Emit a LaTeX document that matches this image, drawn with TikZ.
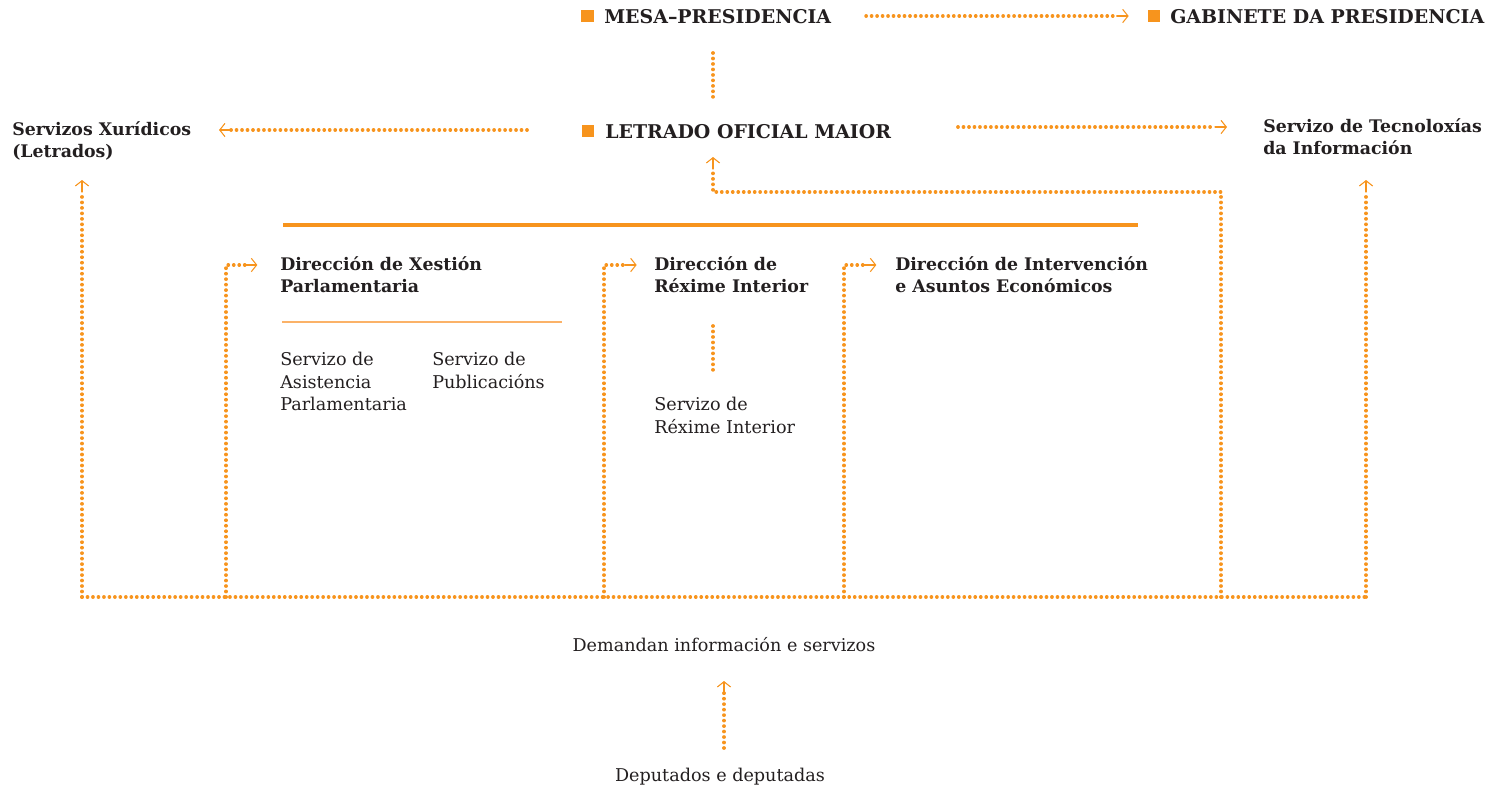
\documentclass[tikz,border=0pt]{standalone}
\usepackage{fontspec}
\setmainfont{DejaVu Serif}
\usetikzlibrary{arrows.meta,decorations.markings}
\definecolor{orng}{RGB}{247,148,29}
\definecolor{lorng}{RGB}{251,178,104}
\definecolor{ink}{RGB}{35,31,32}
\tikzset{
  dotline/.style={orng, line width=2.8pt, line cap=round, dash pattern=on 0.01pt off 4.1pt},
  tipline/.style={orng, solid, line width=0.8pt, shorten >=0pt, shorten <=0pt, -{Straight Barb[length=4pt,width=10pt,line width=0.8pt]}},
  arrowto/.style={dotline, shorten >=9pt, postaction={decorate, decoration={markings,
      mark=at position 1 with {\draw[tipline] (-9pt,0) -- (0,0);}}}},
  sq/.style={fill=orng, minimum size=9.6pt, inner sep=0pt},
  head/.style={text=ink, font=\fontsize{14.2}{16.5}\selectfont\bfseries, inner sep=0pt, anchor=base west},
  txt/.style={text=ink, font=\fontsize{13.2}{16.8}\selectfont, inner sep=0pt, align=left, anchor=north west},
  btxt/.style={txt, font=\fontsize{13}{16.5}\selectfont\bfseries},
}
\begin{document}
\begin{tikzpicture}[x=0.75pt, y=-0.75pt]
			%%%%% START %%%%%
			\useasboundingbox (0,0) rectangle (1495,789);
			
			% top row
			\node[sq] (mesasq) at (587.5,16) {};
			\node[head] (mesa) at (604,23) {MESA–PRESIDENCIA};
			\node[sq] (gabsq) at (1154,16) {};
			\node[head] (gabinete) at (1170,23) {GABINETE DA PRESIDENCIA};
			\draw[arrowto] ([xshift=26pt]mesa.east |- mesasq) -- ([xshift=-14pt]gabsq.west);
			
			\coordinate (mtop) at (713,53);
			\coordinate (mbot) at (713,100);
			\draw[dotline] (mtop) -- (mbot);
			
			% letrado
			\node[sq] (letsq) at (588,131) {};
			\node[head] (letrado) at (605,138) {LETRADO OFICIAL MAIOR};
			\node[btxt] (xuridicos) at (12,121) {Servizos Xurídicos\\(Letrados)};
			\node[btxt] (tecno) at (1263,118) {Servizo de Tecnoloxías\\da Información};
			\coordinate (lleft) at (527,130);
			\coordinate (lright) at (958,127);
			\draw[arrowto] (lleft) -- (219,130);
			\draw[arrowto] (lright) -- (1227,127);
			
			% bar
			\draw[orng, line width=2.4pt] (283,225) -- (1138,225);
			
			% direccions
			\node[btxt] (dxp) at (280,256) {Dirección de Xestión\\Parlamentaria};
			\node[btxt] (dri) at (654,256) {Dirección de\\Réxime Interior};
			\node[btxt] (dia) at (895,256) {Dirección de Intervención\\e Asuntos Económicos};
			\draw[lorng, line width=1.6pt] (282,322) -- (562,322);
			\node[txt] (sap) at (280,352) {Servizo de\\Asistencia\\Parlamentaria};
			\node[txt] (spub) at (432,352) {Servizo de\\Publicacións};
			\coordinate (rtop) at (713,326);
			\coordinate (rbot) at (713,373);
			\draw[dotline] (rtop) -- (rbot);
			\node[txt] (sri) at (654,397) {Servizo de\\Réxime Interior};
			
			% bottom
			\coordinate (bl) at (82,597);
			\coordinate (br) at (1366,597);
			\draw[dotline] (bl) -- (br);
			\draw[arrowto] (bl) -- (82,180);
			\draw[arrowto] (br) -- (1366,180);
			\draw[arrowto] (bl -| 226,0) -- (226,265) -- ([xshift=-17pt]dxp.west |- 0,265);
			\draw[arrowto] (bl -| 604,0) -- (604,265) -- ([xshift=-13pt]dri.west |- 0,265);
			\draw[arrowto] (bl -| 844,0) -- (844,265) -- ([xshift=-14pt]dia.west |- 0,265);
			\draw[arrowto] (bl -| 1221,0) -- (1221,192) -- (713,192) -- (713,157);
			
			\node[txt, anchor=base] (demandan) at (724,651) {Demandan información e servizos};
			\node[txt, anchor=base] (deputados) at (720,781) {Deputados e deputadas};
			\coordinate (dtop) at (724,681);
			\coordinate (dbot) at (724,748);
			\draw[arrowto] (dbot) -- (dtop);
			
			%%%%% END %%%%%
\end{tikzpicture}
\end{document}
